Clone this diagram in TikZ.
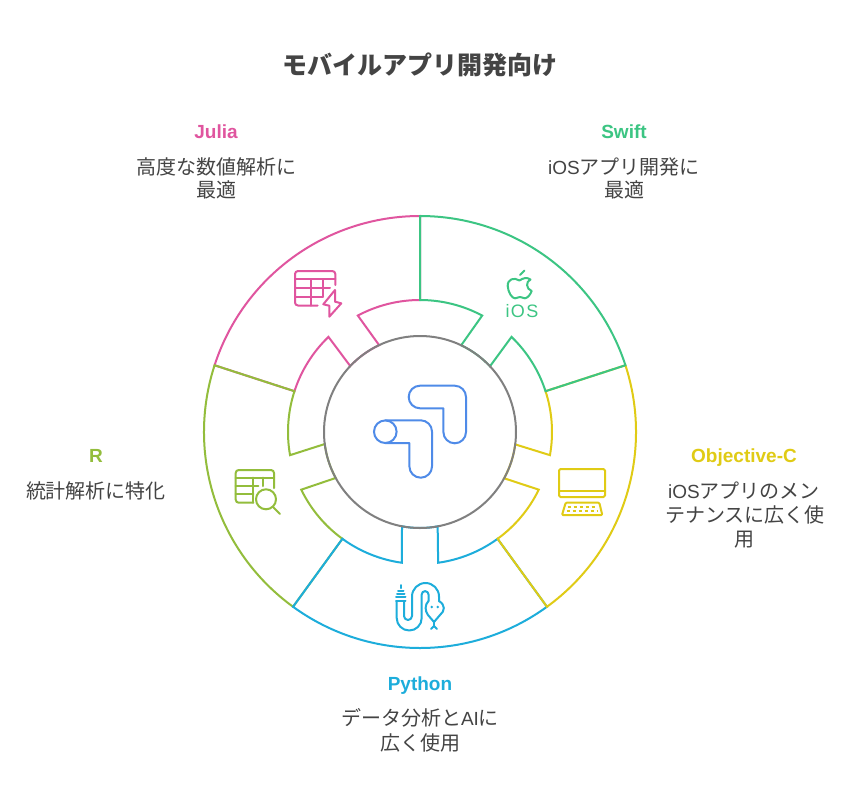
\documentclass[tikz,border=0pt]{standalone}
\usepackage{fontspec}
\setmainfont{Noto Sans CJK JP}
\newfontfamily\lat[Scale=0.95]{Liberation Sans}
\newfontfamily\iosf[LetterSpace=8]{Liberation Sans}
\definecolor{cswift}{HTML}{3CC583}
\definecolor{cobj}{HTML}{E0CB15}
\definecolor{cpy}{HTML}{1DADDB}
\definecolor{cr}{HTML}{93BD3C}
\definecolor{cju}{HTML}{E0559F}
\definecolor{cblue}{HTML}{4F8BE8}
\definecolor{cgray}{HTML}{808080}
\definecolor{ctext}{HTML}{444444}
\tikzset{
  body/.style={font=\fontsize{20}{24}\selectfont, text=ctext, anchor=base, inner sep=0pt},
  head/.style={font=\fontsize{20}{24}\selectfont\bfseries\lat, anchor=base, inner sep=0pt},
  ttl/.style={font=\fontsize{25}{30}\selectfont\bfseries, text=ctext, anchor=base, inner sep=0pt},
  seg/.style={line width=2pt, line join=miter, miter limit=10},
  ico/.style={line width=2pt, line join=round, line cap=round},
}
\newcommand{\segment}[2]{%
  \begin{scope}[shift={(420,-432)}, rotate=#2]
    \draw[seg, #1] (90:216) arc[start angle=90, end angle=18, radius=216]
      -- (18:132) arc[start angle=18, end angle=46.1, radius=132]
      -- (43.2:96) arc[start angle=43.2, end angle=64.6, radius=96]
      -- (61.9:132) arc[start angle=61.9, end angle=90, radius=132] -- cycle;
  \end{scope}}
\begin{document}
\begin{tikzpicture}[x=1pt,y=1pt]
\useasboundingbox (0,0) rectangle (852,-804);
\fill[white] (0,0) rectangle (852,-804);
\segment{cju}{72}
\segment{cr}{144}
\segment{cpy}{216}
\segment{cobj}{288}
\segment{cswift}{0}
\draw[line width=2pt, cgray] (420,-432) circle[radius=96];
% all icons in reference pixel coordinates (y down, so arc angles are mirrored)
\begin{scope}[yscale=-1]
\draw[cblue, line width=2pt, line join=round]
  (420,385.7) -- (454.7,385.7) arc[start angle=-90, end angle=0, radius=11.3]
  -- (466,432) arc[start angle=0, end angle=180, radius=11.3]
  -- (443.4,408.3) -- (420,408.3) arc[start angle=90, end angle=270, radius=11.3] -- cycle;
\draw[cblue, line width=2pt, line join=round]
  (385.3,420.3) -- (420.7,420.3) arc[start angle=-90, end angle=0, radius=11.3]
  -- (432,466.4) arc[start angle=0, end angle=180, radius=11.3]
  -- (409.4,443) -- (385.3,443);
\draw[cblue, line width=2pt] (385.3,431.7) circle[radius=11.3];
% Julia icon
\begin{scope}[cju, ico]
\draw (317.7,305.5) -- (298,305.5) arc[start angle=90, end angle=180, radius=3]
  -- (295,274) arc[start angle=180, end angle=270, radius=3]
  -- (332.3,271) arc[start angle=-90, end angle=0, radius=3] -- (335.3,285);
\draw (295,279.3) -- (335.3,279.3);
\draw (295,287.7) -- (330,287.7);
\draw (295,296.7) -- (323,296.7);
\draw (311,279.3) -- (311,305.5);
\draw (323,279.3) -- (323,296.7);
\draw (335,290) -- (335,301.7) -- (341.3,303.3) -- (329.3,316.7) -- (329.3,305.7) -- (323.3,304.3) -- cycle;
\end{scope}
% iOS icon
\begin{scope}[cswift, ico]
\draw (520,275) -- (524.3,270.7);
\draw (519.5,280.5) .. controls (514,277) and (507.5,279) .. (507.7,286)
  .. controls (508,292) and (512,298.5) .. (515,298.3)
  .. controls (517,298) and (518,297) .. (520,297)
  .. controls (522,297) and (523,298.3) .. (525,298.3)
  .. controls (528,298) and (530.5,294) .. (531.7,291)
  .. controls (526,289) and (525.5,281.5) .. (530.5,279.5)
  .. controls (527,277) and (523,278) .. (519.5,280.5);
\end{scope}
% monitor icon
\begin{scope}[cobj, ico]
\draw[rounded corners=1.5pt] (559,469) rectangle (605,497);
\draw (559,491) -- (605,491);
\draw[rounded corners=1pt] (565.7,502.7) -- (599.3,502.7) -- (602.3,515) -- (562,515) -- cycle;
\draw[line cap=butt, dash pattern=on 3pt off 3pt] (567.7,506.7) -- (597,506.7);
\draw[line cap=butt, dash pattern=on 3pt off 3pt] (566.5,510.5) -- (598,510.5);
\end{scope}
% python icon
\begin{scope}[cpy, ico]
\draw (400.7,585) -- (400.7,588);
\draw (398,590.7) -- (403.5,590.7);
\draw (397,594) -- (404.5,594);
\draw (396,597.3) -- (405.5,597.3);
\draw (396,600.7) -- (405.5,600.7);
\draw (404,601) -- (404,616) arc[start angle=180, end angle=0, radius=4]
  -- (412,596.5) arc[start angle=180, end angle=360, radius=13.5] -- (439,601);
\draw (396.7,601) -- (396.7,618) arc[start angle=180, end angle=0, radius=12.5]
  -- (421.7,594.5) arc[start angle=180, end angle=360, radius=3.4] -- (428.5,601);
\draw (428.5,601) .. controls (424.5,605) and (425,611) .. (428,615) -- (434,622)
  -- (440,615) .. controls (445,611) and (445.5,605) .. (439,601);
\draw (434,622) -- (434,626);
\draw (431,629) -- (434,626) -- (437,629);
\fill (431.7,607) circle[radius=1.4];
\fill (437.7,607) circle[radius=1.4];
\end{scope}
% R icon
\begin{scope}[cr, ico]
\draw (253.3,502.7) -- (238.7,502.7) arc[start angle=90, end angle=180, radius=3]
  -- (235.7,473) arc[start angle=180, end angle=270, radius=3]
  -- (271,470) arc[start angle=-90, end angle=0, radius=3] -- (274,488);
\draw (235.7,477.7) -- (274,477.7);
\draw (235.7,485.7) -- (258.3,485.7);
\draw (235.7,494) -- (253.3,494);
\draw (253.3,477.7) -- (253.3,502.7);
\draw (262.7,477.7) -- (262.7,486);
\draw (266,499.3) circle[radius=10];
\draw (273.5,507.5) -- (280,514);
\end{scope}
\end{scope}
\node[font=\fontsize{18}{20}\selectfont\iosf, text=cswift, anchor=base, inner sep=0pt] (iosmark) at (522,-317) {iOS};
% texts
\node[ttl] (title) at (420,-74) {モバイルアプリ開発向け};
\node[head, text=cju] (juh) at (216,-138) {Julia};
\node[body] (ju1) at (216,-174) {高度な数値解析に};
\node[body] (ju2) at (216,-197) {最適};
\node[head, text=cswift] (swh) at (624,-138) {Swift};
\node[body] (sw1) at (624,-174) {{\lat iOS}アプリ開発に};
\node[body] (sw2) at (624,-197) {最適};
\node[head, text=cobj] (obh) at (744,-462) {Objective-C};
\node[body] (ob1) at (744,-498) {{\lat iOS}アプリのメン};
\node[body] (ob2) at (745,-522) {テナンスに広く使};
\node[body] (ob3) at (744,-546) {用};
\node[head, text=cr] (rh) at (96,-462) {R};
\node[body] (r1) at (96,-498) {統計解析に特化};
\node[head, text=cpy] (pyh) at (420,-690) {Python};
\node[body] (py1) at (420,-725) {データ分析と{\lat AI}に};
\node[body] (py2) at (420,-750) {広く使用};
\end{tikzpicture}
\end{document}
